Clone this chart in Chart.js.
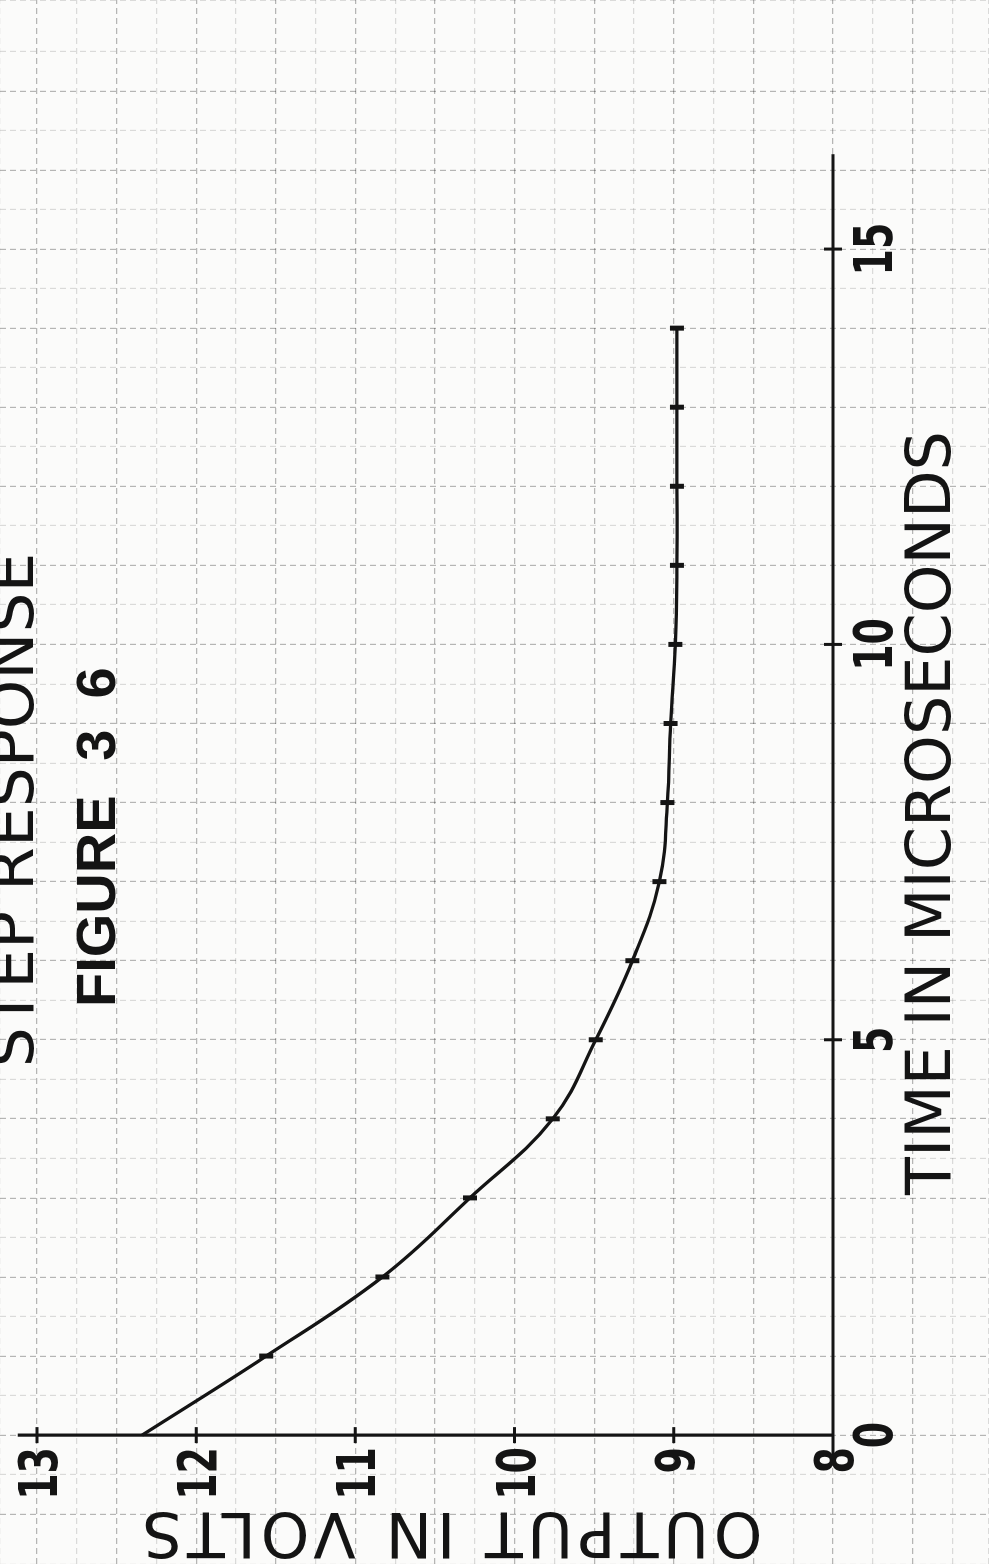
<!DOCTYPE html>
<html>
<head>
<meta charset="utf-8">
<title>Step Response - Figure 36</title>
<script src="https://cdn.jsdelivr.net/npm/chart.js@4.4.0/dist/chart.umd.min.js"></script>
<style>
  html, body { margin: 0; padding: 0; background: #fbfbfa; overflow: hidden; width: 989px; height: 1564px; }
  /* the page is drawn landscape and then turned a quarter turn, like the scan */
  #sheet {
    position: absolute; left: 0; top: 0;
    width: 1564px; height: 989px;
    transform-origin: 0 0;
    transform: translate(0, 1564px) rotate(-90deg);
  }
</style>
</head>
<body>
<div id="sheet"><canvas id="stepChart" width="1564" height="989"></canvas></div>
<script>
// readings off the plotted points
const timeUs = [0, 1, 2, 3, 4, 5, 6, 7, 8, 9, 10, 11, 12, 13, 14];
const outputVolts = [12.34, 11.56, 10.83, 10.28, 9.76, 9.49, 9.26, 9.09, 9.04, 9.02, 8.99, 8.98, 8.98, 8.98, 8.98];

const timeTicks = [0, 5, 10, 15];
const voltTicks = [8, 9, 10, 11, 12, 13];

const ink = '#141414';
const digitFont = 'bold 54px "Liberation Sans Narrow", "DejaVu Sans Condensed", sans-serif';

function isWhole(v, step) {
  const n = v / step;
  return Math.abs(n - Math.round(n)) < 1e-6;
}

// hand lettered digits are narrow, squeeze them a little
function narrowText(ctx, text, px, py, align) {
  ctx.save();
  ctx.translate(px, py);
  ctx.scale(0.78, 1);
  ctx.textAlign = align;
  ctx.fillText(text, 0, 0);
  ctx.restore();
}

// axes, tick marks and lettering
const sheetPlugin = {
  id: 'sheet',
  beforeDatasetsDraw(chart) {
    const { ctx, scales: { x, y } } = chart;
    const x0 = x.getPixelForValue(0);
    const y8 = y.getPixelForValue(8);
    ctx.save();
    ctx.strokeStyle = ink;
    ctx.lineWidth = 3.2;
    ctx.beginPath();
    ctx.moveTo(x.getPixelForValue(-0.3), y8);
    ctx.lineTo(x.getPixelForValue(16.2), y8);
    ctx.moveTo(x0, y8);
    ctx.lineTo(x0, y.getPixelForValue(13.12));
    ctx.stroke();
    ctx.lineWidth = 3;
    ctx.beginPath();
    timeTicks.slice(1).forEach(t => {
      const px = x.getPixelForValue(t);
      ctx.moveTo(px, y8 - 9);
      ctx.lineTo(px, y8 + 9);
    });
    voltTicks.slice(1).forEach(v => {
      const py = y.getPixelForValue(v);
      ctx.moveTo(x0 - 8, py);
      ctx.lineTo(x0 + 8, py);
    });
    ctx.stroke();
    ctx.restore();
  },
  afterDraw(chart) {
    const { ctx, scales: { x, y } } = chart;
    const x0 = x.getPixelForValue(0);
    const y8 = y.getPixelForValue(8);
    ctx.save();
    ctx.fillStyle = ink;
    ctx.textBaseline = 'alphabetic';

    ctx.font = digitFont;
    voltTicks.forEach(v => narrowText(ctx, String(v), x0 - 12, y.getPixelForValue(v) + 20, 'right'));
    timeTicks.forEach(t => narrowText(ctx, String(t), x.getPixelForValue(t), y8 + 59, 'center'));

    // title block
    ctx.textAlign = 'center';
    ctx.font = '63px "DejaVu Sans", sans-serif';
    ctx.fillText('STEP RESPONSE', 754, 33);
    ctx.font = 'bold 56px "Liberation Sans Narrow", sans-serif';
    ctx.textAlign = 'left';
    ctx.fillText('FIGURE', 557, 115);
    ctx.textAlign = 'center';
    ctx.fillText('3  6', 850, 115);

    // axis titles
    ctx.font = '62px "DejaVu Sans", sans-serif';
    ctx.fillText('TIME IN MICROSECONDS', 751, 950);
    ctx.translate(51, 450);
    ctx.rotate(-Math.PI / 2);
    ctx.letterSpacing = '5px';
    ctx.fillText('OUTPUT IN VOLTS', 0, 0);
    ctx.restore();
  }
};

new Chart(document.getElementById('stepChart'), {
  type: 'line',
  data: {
    datasets: [{
      label: 'Output',
      data: timeUs.map((t, i) => ({ x: t, y: outputVolts[i] })),
      borderColor: ink,
      borderWidth: 3.3,
      tension: 0.4,
      fill: false,
      pointStyle: 'line',
      rotation: 90,
      pointRadius: ctx => (ctx.dataIndex === 0 ? 0 : 7),
      pointBorderWidth: 5,
      pointBorderColor: ink
    }]
  },
  options: {
    responsive: false,
    animation: false,
    devicePixelRatio: 1,
    layout: { padding: 0, autoPadding: false },
    plugins: { legend: { display: false }, tooltip: { enabled: false } },
    scales: {
      x: {
        type: 'linear',
        min: -1.63,
        max: 18.15,
        ticks: { display: false, stepSize: 0.5, maxTicksLimit: 1000 },
        grid: {
          drawTicks: false,
          lineWidth: 1.2,
          color: ctx => isWhole(ctx.tick.value, 1) ? 'rgba(0,0,0,0.28)' : 'rgba(0,0,0,0.13)'
        },
        border: { display: false, dash: [6, 4] },
        afterFit: s => { s.height = 0; }
      },
      y: {
        type: 'linear',
        min: 7.02,
        max: 13.232,
        ticks: { display: false, stepSize: 0.25, maxTicksLimit: 1000 },
        grid: {
          drawTicks: false,
          lineWidth: 1.2,
          color: ctx => isWhole(ctx.tick.value, 0.5) ? 'rgba(0,0,0,0.28)' : 'rgba(0,0,0,0.13)'
        },
        border: { display: false, dash: [6, 4] },
        afterFit: s => { s.width = 0; }
      }
    }
  },
  plugins: [sheetPlugin]
});
</script>
</body>
</html>
